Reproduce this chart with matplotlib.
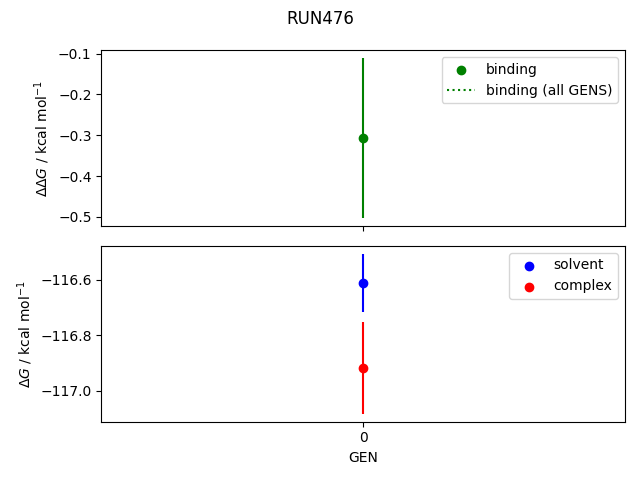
import numpy as np
import matplotlib
matplotlib.use("Agg")
import matplotlib.pyplot as plt

run = "RUN476"
gens = [0]
binding = [-0.307]
binding_err = [0.196]
solvent = [-116.611]
solvent_err = [0.105]
complex_ = [-116.917]
complex_err = [0.166]

fig, axes = plt.subplots(2, 1, sharex=True, figsize=(6.4, 4.8), dpi=100)

ax = axes[0]
ax.scatter(gens, binding, color="green", label="binding")
ax.errorbar(gens, binding, yerr=binding_err, color="green", fmt="none")
ax.hlines(np.mean(binding), min(gens), max(gens), color="green",
          linestyles=":", label="binding (all GENS)")
ax.set_ylabel(r"$\Delta\Delta G$ / kcal mol$^{-1}$")
ax.legend()

ax = axes[1]
ax.scatter(gens, solvent, color="blue", label="solvent")
ax.errorbar(gens, solvent, yerr=solvent_err, color="blue", fmt="none")
ax.scatter(gens, complex_, color="red", label="complex")
ax.errorbar(gens, complex_, yerr=complex_err, color="red", fmt="none")
ax.set_ylabel(r"$\Delta G$ / kcal mol$^{-1}$")
ax.set_xlabel("GEN")
ax.set_xticks(gens)
ax.legend()

fig.suptitle(run)
fig.tight_layout()
fig.savefig("out.png")
